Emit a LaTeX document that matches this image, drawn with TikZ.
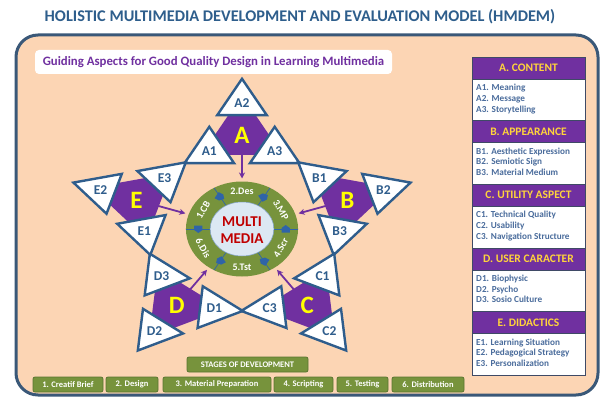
\documentclass[tikz,border=0pt]{standalone}
\usepackage{fontspec}
\setmainfont{Carlito}
\usetikzlibrary{arrows.meta}
\definecolor{peach}{HTML}{FCD5B4}
\definecolor{framec}{HTML}{3A5878}
\definecolor{titlec}{HTML}{2E5E8C}
\definecolor{purp}{HTML}{7030A0}
\definecolor{tribl}{HTML}{2F5D8C}
\definecolor{ringg}{HTML}{77933C}
\definecolor{ringgd}{HTML}{5E7A2E}
\definecolor{innerb}{HTML}{DCE8F3}
\definecolor{iconb}{HTML}{2F64A8}
\definecolor{mmred}{HTML}{C00000}
\definecolor{hexy}{HTML}{FFFF00}
\definecolor{heady}{HTML}{FFD43B}
\definecolor{bodyt}{HTML}{4A6C9C}
\definecolor{panelb}{HTML}{3F4A66}
\definecolor{stageb}{HTML}{5A7530}
\begin{document}
\begin{tikzpicture}[x=1pt,y=-1pt,
  every node/.style={font=\bfseries},
  tri/.style={draw=tribl, line width=2.4pt, fill=white},
  trilab/.style={text=tribl, font=\bfseries\fontsize{13.5}{13.5}\selectfont, inner sep=0pt},
  hexlab/.style={text=hexy, font=\bfseries\fontsize{25}{25}\selectfont, inner sep=0pt},
  parrow/.style={draw=purp, line width=1.8pt, -{Stealth[length=6pt,width=6pt]}},
  ringlab/.style={text=white, font=\bfseries\fontsize{10}{10}\selectfont, inner sep=0pt},
  headbox/.style={fill=purp, draw=panelb, line width=0.6pt, minimum width=113pt, minimum height=22pt, text=heady, font=\bfseries\fontsize{11.5}{12}\selectfont, inner sep=0pt},
  bodybox/.style={fill=white, draw=panelb, line width=0.6pt, minimum width=113pt, minimum height=41.6pt, inner sep=0pt},
  bodytxt/.style={text=bodyt, font=\bfseries\fontsize{9.2}{10.7}\selectfont, align=left, anchor=north west, inner sep=0pt},
  stagebox/.style={fill=ringg, draw=stageb, line width=0.8pt, rounded corners=2pt, text=white, font=\bfseries\fontsize{8.5}{9}\selectfont, minimum height=15pt, inner sep=0pt}
]
\useasboundingbox (0,0) rectangle (601,398);
\fill[white] (0,0) rectangle (601,398);
% frame
\draw[framec, line width=3pt, fill=peach, rounded corners=22pt] (16,35) rectangle (598,395);
% title
\node[text=titlec, font=\bfseries\fontsize{16.3}{16.3}\selectfont] (title) at (300,17) {HOLISTIC MULTIMEDIA DEVELOPMENT AND EVALUATION MODEL (HMDEM)};
\node[fill=white, rounded corners=4pt, minimum width=357pt, minimum height=24pt, inner sep=0pt, text=purp, font=\bfseries\fontsize{12.8}{13}\selectfont] (sub) at (213.5,62) {Guiding Aspects for Good Quality Design in Learning Multimedia};

% star
\begin{scope}[shift={(242,229)}, xscale=1.18, yscale=-1]
  \fill[ringg] (0,0) circle (47.5);
  \foreach \t in {0,60,...,300} {
    \draw[iconb, line width=0.7pt] ({\t}:27) -- ({\t}:47.5);
    \begin{scope}[shift={({\t}:37)}, rotate=\t-90]
      \fill[iconb] (-3.5,-3.5) -- (1,-3.5) -- (4,0) -- (1,3.5) -- (-3.5,3.5) -- cycle;
    \end{scope}
  }
  \fill[innerb] (0,0) circle (27);
  \draw[iconb!60, line width=0.5pt] (0,0) circle (27);
  \node[text=mmred, font=\bfseries\fontsize{15}{17}\selectfont, align=center, inner sep=0pt] (mm) at (0,-1) {MULTI\\MEDIA};
  \node[ringlab, rotate=60] (s1) at (150:38) {1.CB};
  \node[ringlab] (s2) at (90:38) {2.Des};
  \node[ringlab, rotate=-60] (s3) at (30:38) {3.MP};
  \node[ringlab, rotate=60] (s4) at (-30:38) {4.Scr};
  \node[ringlab] (s5) at (-90:38) {5.Tst};
  \node[ringlab, rotate=-60] (s6) at (210:38) {6.Dis};
  \foreach \L [count=\k from 0] in {A,B,C,D,E} {
    \pgfmathsetmacro\a{90-72*\k}
    \begin{scope}[shift={({\a}:94)}]
      \fill[purp] ({\a+30}:23) -- ({\a+90}:23) -- ({\a+150}:23) -- ({\a+210}:23) -- ({\a+270}:23) -- ({\a+330}:23) -- cycle;
      \node[hexlab] (hex\L) at (0,0) {\L};
      \foreach \d/\n in {0/2,120/1,240/3} {
        \begin{scope}[shift={({\a+\d}:32)}]
          \draw[tri] ({\a+\d}:24.2) -- ({\a+\d+120}:24.2) -- ({\a+\d+240}:24.2) -- cycle;
          \node[trilab] (t\L\n) at (0,0) {\L\n};
        \end{scope}
      }
    \end{scope}
    \coordinate (as\L) at ({\a}:75);
    \coordinate (ae\L) at ({\a}:50.5);
    \draw[parrow] (as\L) -- (ae\L);
  }
\end{scope}

% right panel
\node[headbox] (hA) at (528.5,68) {A. CONTENT};
\node[bodybox] (bA) at (528.5,99.8) {};
\node[bodytxt] at (476,84) {A1. Meaning\\A2. Message\\A3. Storytelling};
\node[headbox] (hB) at (528.5,131.6) {B. APPEARANCE};
\node[bodybox] (bB) at (528.5,163.4) {};
\node[bodytxt] at (476,147.6) {B1. Aesthetic Expression\\B2. Semiotic Sign\\B3. Material Medium};
\node[headbox] (hC) at (528.5,195.2) {C. UTILITY ASPECT};
\node[bodybox] (bC) at (528.5,227) {};
\node[bodytxt] at (476,211.2) {C1. Technical Quality\\C2. Usability\\C3. Navigation Structure};
\node[headbox] (hD) at (528.5,258.8) {D. USER CARACTER};
\node[bodybox] (bD) at (528.5,290.6) {};
\node[bodytxt] at (476,274.8) {D1. Biophysic\\D2. Psycho\\D3. Sosio Culture};
\node[headbox] (hE) at (528.5,322.4) {E. DIDACTICS};
\node[bodybox] (bE) at (528.5,354.2) {};
\node[bodytxt] at (476,338.4) {E1. Learning Situation\\E2. Pedagogical Strategy\\E3. Personalization};

% stages
\node[stagebox, minimum width=121pt] (st) at (247.5,364.5) {STAGES OF DEVELOPMENT};
\node[stagebox, minimum width=70pt] (g1) at (68,384.5) {1. Creatif Brief};
\node[stagebox, minimum width=52pt] (g2) at (132,384.5) {2. Design};
\node[stagebox, minimum width=108pt] (g3) at (217,384.5) {3. Material Preparation};
\node[stagebox, minimum width=59pt] (g4) at (303.5,384.5) {4. Scripting};
\node[stagebox, minimum width=51pt] (g5) at (362.5,384.5) {5. Testing};
\node[stagebox, minimum width=72pt] (g6) at (428,384.5) {6. Distribution};
\end{tikzpicture}
\end{document}
